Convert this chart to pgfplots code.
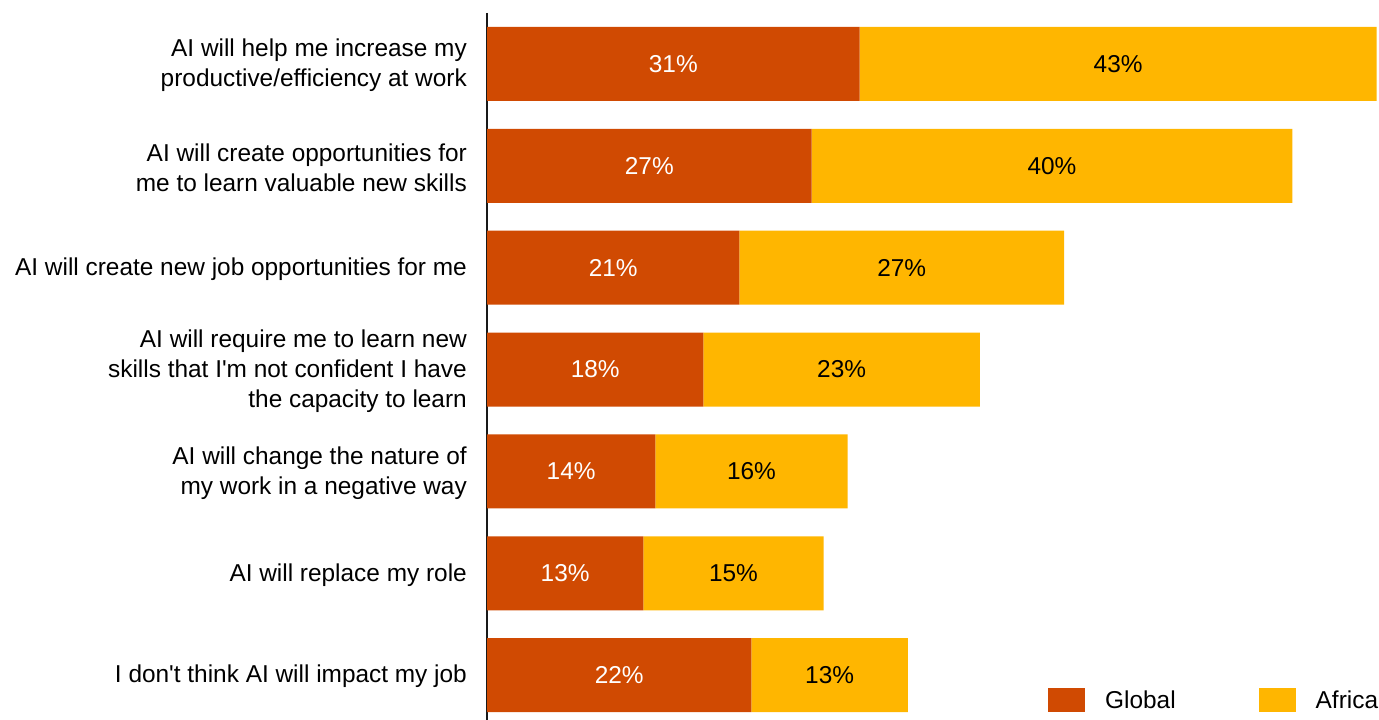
\documentclass[border=0pt]{standalone}
\usepackage{fontspec}
\newfontfamily\lsans{Liberation Sans}
\usepackage{pgfplots}
\usepackage{pgfplotstable}
\pgfplotsset{compat=1.18}

\definecolor{globalc}{HTML}{D04A02}
\definecolor{africac}{HTML}{FFB600}

% idx = row from top, g = Global, a = Africa (percent)
\pgfplotstableread{
idx g  a
0   31 43
1   27 40
2   21 27
3   18 23
4   14 16
5   13 15
6   22 13
}\answers

\begin{document}
\lsans
\begin{tikzpicture}
\path[use as bounding box] (0,0) rectangle (1379bp,720bp);
\begin{axis}[
    at={(487bp,0bp)}, anchor=south west,
    scale only axis,
    width=892bp, height=707bp,
    xbar stacked,
    bar width=74bp,
    xmin=0, xmax=74.2,
    ymin=-0.5, ymax=6.44,
    y dir=reverse,
    axis x line=none,
    axis y line*=left,
    y axis line style={line width=2.2bp, black!90},
    ytick={0,...,6},
    yticklabels={
        {AI will help me increase my\\productive/efficiency at work},
        {AI will create opportunities for\\me to learn valuable new skills},
        {AI will create new job opportunities for me},
        {AI will require me to learn new\\skills that I\symbol{39}m not confident I have\\the capacity to learn},
        {AI will change the nature of\\my work in a negative way},
        {AI will replace my role},
        {I don\symbol{39}t think AI will impact my job}},
    major tick length=0pt,
    ytick style={draw=none},
    yticklabel style={align=right, inner xsep=0pt, xshift=-20bp, yshift=-1.5bp,
        font=\fontsize{24.4bp}{30bp}\selectfont},
    clip=false,
    point meta=explicit symbolic,
    nodes near coords={\pgfplotspointmeta\%},
    every node near coord/.append style={anchor=center, inner sep=0pt,
        font=\fontsize{24.4bp}{30bp}\selectfont},
    legend columns=2,
    legend style={at={(0.6289,0.0283)}, anchor=west, draw=none, fill=none,
        inner sep=0pt,
        font=\fontsize{24.4bp}{30bp}\selectfont,
        nodes={inner xsep=0pt, inner ysep=2bp},
        /tikz/every odd column/.append style={column sep=20bp},
        /tikz/every even column/.append style={column sep=83bp}},
    legend image code/.code={\fill[#1] (0bp,-12bp) rectangle (37bp,12bp);},
]
\addplot[fill=globalc, draw=none,
    every node near coord/.append style={text=white}]
    table[x=g, y=idx, meta=g] {\answers};
\addplot[fill=africac, draw=none,
    every node near coord/.append style={text=black}]
    table[x=a, y=idx, meta=a] {\answers};
\legend{Global, Africa}
\end{axis}
\end{tikzpicture}
\end{document}
